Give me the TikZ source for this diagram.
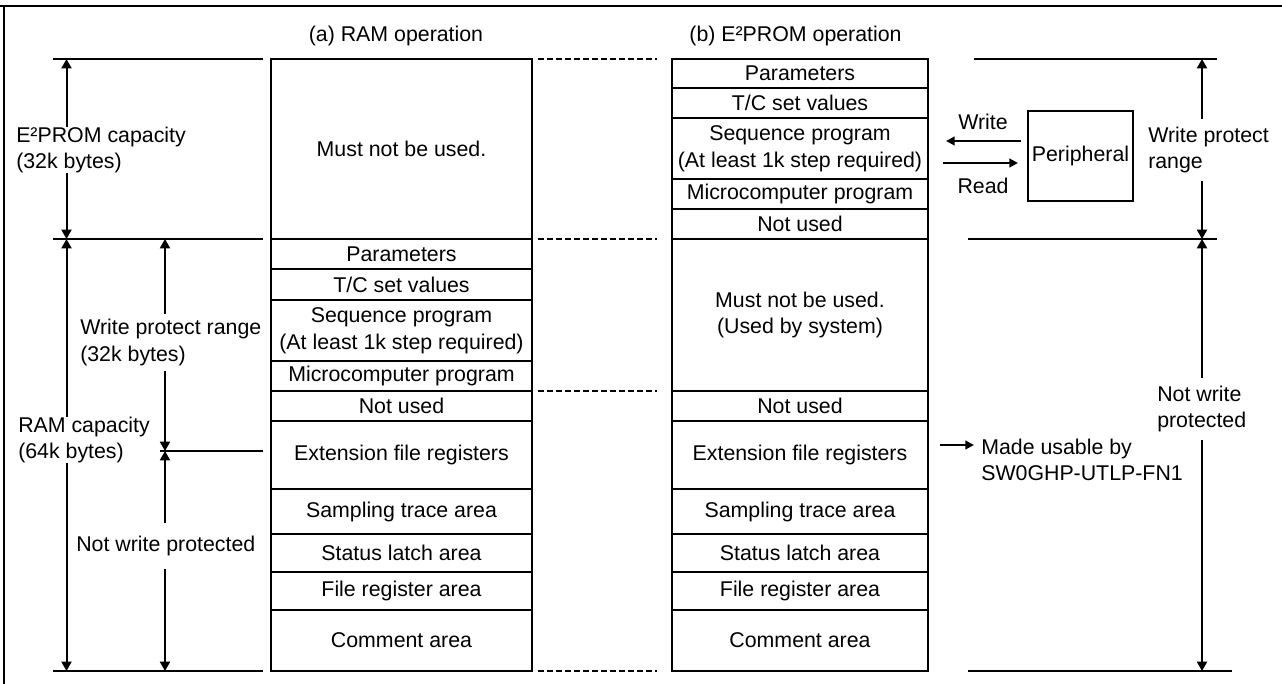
\documentclass[tikz,border=0pt]{standalone}
\usepackage{fontspec}
\setmainfont{Liberation Sans}
\usetikzlibrary{arrows.meta}
\newcommand{\diafont}{\fontsize{16pt}{20pt}\selectfont}

\begin{document}
\begin{tikzpicture}[x=0.75pt,y=-0.75pt,
  every node/.style={font=\diafont, inner sep=0pt},
  cell/.style={draw, line width=1.6pt, rectangle, align=center},
  lcell/.style={cell, minimum width=195.75pt},
  rcell/.style={cell, minimum width=192pt},
  rule/.style={line width=1.6pt},
  gapline/.style={line width=1.5pt, dash pattern=on 4.5pt off 2.25pt},
  dimarrow/.style={line width=1.5pt, {Triangle[length=7pt,width=7.5pt]}-{Triangle[length=7pt,width=7.5pt]}},
  arrow/.style={line width=1.5pt, -{Triangle[length=6.5pt,width=6.5pt]}},
  label/.style={fill=white, align=left, anchor=west},
  title/.style={anchor=center}
]
\useasboundingbox (0,0) rectangle (1282,684);

% frame
\draw[line width=2.2pt] (0,6) -- (1282,6);
\draw[line width=1.6pt] (4,6) -- (4,684);

% titles
\node[title] (ta) at (396,36) {(a) RAM operation};
\node[title] (tb) at (795.5,36) {(b) E²PROM operation};

% RAM operation memory map
\node[lcell, minimum height=135pt]   (lmust) at (401.5,149)   {Must not be used.};
\node[lcell, minimum height=22.5pt]  (lpar)  at (401.5,254)   {Parameters};
\node[lcell, minimum height=23.25pt] (ltc)   at (401.5,284.5) {T/C set values};
\node[lcell, minimum height=45.75pt] (lseq)  at (401.5,330.5) {Sequence program\\(At least 1k step required)};
\node[lcell, minimum height=22.5pt]  (lmic)  at (401.5,376)   {Microcomputer program};
\node[lcell, minimum height=22.5pt]  (lnot)  at (401.5,406)   {Not used};
\node[lcell, minimum height=51pt]    (lext)  at (401.5,455)   {Extension file registers};
\node[lcell, minimum height=33.75pt] (lsam)  at (401.5,511.5) {Sampling trace area};
\node[lcell, minimum height=28.5pt]  (lsta)  at (401.5,553)   {Status latch area};
\node[lcell, minimum height=28.5pt]  (lfil)  at (401.5,591)   {File register area};
\node[lcell, minimum height=45.75pt] (lcom)  at (401.5,640.5) {Comment area};

% E2PROM operation memory map
\node[rcell, minimum height=21.75pt] (rpar)  at (800,73.5)  {Parameters};
\node[rcell, minimum height=22.5pt]  (rtc)   at (800,103)   {T/C set values};
\node[rcell, minimum height=45.75pt] (rseq)  at (800,148.5) {Sequence program\\(At least 1k step required)};
\node[rcell, minimum height=22.5pt]  (rmic)  at (800,194)   {Microcomputer program};
\node[rcell, minimum height=22.5pt]  (rnot)  at (800,224)   {Not used};
\node[rcell, minimum height=114pt]   (rmust) at (800,315)   {Must not be used.\\(Used by system)};
\node[rcell, minimum height=22.5pt]  (rnot2) at (800,406)   {Not used};
\node[rcell, minimum height=51pt]    (rext)  at (800,455)   {Extension file registers};
\node[rcell, minimum height=33.75pt] (rsam)  at (800,511.5) {Sampling trace area};
\node[rcell, minimum height=28.5pt]  (rsta)  at (800,553)   {Status latch area};
\node[rcell, minimum height=28.5pt]  (rfil)  at (800,591)   {File register area};
\node[rcell, minimum height=45.75pt] (rcom)  at (800,640.5) {Comment area};

% dashed correspondence lines between the two maps
\foreach \yy/\nm in {59/a,239/b,391/c,671/d}{
  \coordinate (dl\nm) at (538,\yy);
  \coordinate (dr\nm) at (657,\yy);
  \draw[gapline] (dl\nm) -- (dr\nm);
}

% left extension lines
\coordinate (xa0) at (53,59);   \coordinate (xa1) at (263,59);
\coordinate (xb0) at (53,239);  \coordinate (xb1) at (263,239);
\coordinate (xc0) at (160,451); \coordinate (xc1) at (263,451);
\coordinate (xd0) at (53,671);  \coordinate (xd1) at (263,671);
\draw[rule] (xa0) -- (xa1);
\draw[rule] (xb0) -- (xb1);
\draw[rule] (xc0) -- (xc1);
\draw[rule] (xd0) -- (xd1);

% left dimension arrows
\coordinate (ea) at (66.5,59);  \coordinate (eb) at (66.5,239); \coordinate (ec) at (66.5,671);
\coordinate (wa) at (165,239);  \coordinate (wb) at (165,451);  \coordinate (wc) at (165,671);
\draw[dimarrow] (ea) -- (eb);
\draw[dimarrow] (eb) -- (ec);
\draw[dimarrow] (wa) -- (wb);
\draw[dimarrow] (wb) -- (wc);

\node[label] (ecap) at (16,150) {E²PROM capacity\\(32k bytes)};
\node[label] (rcap) at (18,440) {RAM capacity\\(64k bytes)};
\node[label, inner ysep=4pt] (wpr) at (80,342.5) {Write protect range\\(32k bytes)};
\node[label, inner ysep=10pt] (nwp) at (76,546) {Not write protected};

% right extension lines
\coordinate (ya0) at (974,59);  \coordinate (ya1) at (1217,59);
\coordinate (yb0) at (968,239); \coordinate (yb1) at (1217,239);
\coordinate (yd0) at (968,671); \coordinate (yd1) at (1232,671);
\draw[rule] (ya0) -- (ya1);
\draw[rule] (yb0) -- (yb1);
\draw[rule] (yd0) -- (yd1);

% right dimension arrows
\coordinate (pa) at (1202,59); \coordinate (pb) at (1202,239); \coordinate (pc) at (1202,671);
\draw[dimarrow] (pa) -- (pb);
\draw[dimarrow] (pb) -- (pc);
\node[label, inner ysep=6pt] (rwp) at (1148,150) {Write protect\\range};
\node[label, inner ysep=6pt] (rnwp) at (1157,409) {Not write\\protected};

% peripheral device and transfers
\node[draw, line width=0.8pt, minimum width=78.75pt, minimum height=67.5pt] (peri) at (1080.5,156) {Peripheral};
\coordinate (ws) at (1021,141); \coordinate (we) at (946,141);
\coordinate (rs) at (943,163);  \coordinate (re) at (1018,163);
\draw[arrow] (ws) -- (we);
\draw[arrow] (rs) -- (re);
\node (wlab) at (983,122) {Write};
\node (rlab) at (983,186) {Read};

% extension file register note
\coordinate (ms) at (940,445); \coordinate (me) at (974,445);
\draw[arrow] (ms) -- (me);
\node[label, fill=none] (note) at (981,460) {Made usable by\\SW0GHP-UTLP-FN1};
\end{tikzpicture}
\end{document}
